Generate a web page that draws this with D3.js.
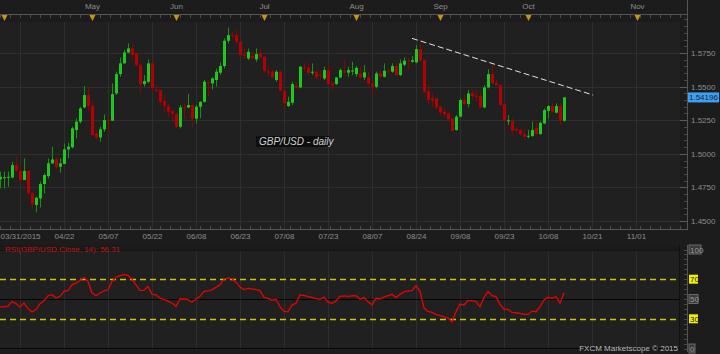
<!DOCTYPE html>
<html>
<head>
<meta charset="utf-8">
<script src="https://d3js.org/d3.v7.min.js"></script>
<style>
  body { margin: 0; background: #1c1c1c; }
  svg { display: block; font-family: "Liberation Sans", Arial, sans-serif; }
</style>
</head>
<body>
<svg id="chart"></svg>
<script>
// daily GBP/USD candles, 03/31/2015 .. 10/14/2015 (trading-day index)
var opens = [1.4810,1.4822,1.4826,1.4824,1.4916,1.4872,1.4805,1.4872,1.4710,1.4619,1.4668,1.4775,1.4834,1.4929,1.4958,1.4904,1.4924,1.5033,1.5048,1.5177,
  1.5239,1.5345,1.5437,1.5355,1.5152,1.5122,1.5182,1.5253,1.5246,1.5449,1.5593,1.5673,1.5754,1.5784,1.5747,1.5660,1.5519,1.5536,1.5673,1.5474,
  1.5474,1.5392,1.5355,1.5318,1.5296,1.5201,1.5347,1.5345,1.5363,1.5261,1.5350,1.5387,1.5531,1.5524,1.5549,1.5603,1.5653,1.5841,1.5885,1.5883,
  1.5834,1.5737,1.5710,1.5727,1.5702,1.5747,1.5722,1.5613,1.5611,1.5549,1.5611,1.5469,1.5355,1.5380,1.5504,1.5494,1.5643,1.5640,1.5603,1.5611,
  1.5588,1.5561,1.5623,1.5524,1.5519,1.5568,1.5613,1.5603,1.5615,1.5593,1.5598,1.5568,1.5568,1.5524,1.5499,1.5598,1.5573,1.5620,1.5611,1.5653,
  1.5586,1.5663,1.5695,1.5685,1.5680,1.5779,1.5697,1.5467,1.5412,1.5412,1.5350,1.5313,1.5301,1.5263,1.5177,1.5276,1.5400,1.5370,1.5449,1.5432,
  1.5429,1.5345,1.5494,1.5593,1.5526,1.5511,1.5370,1.5244,1.5246,1.5186,1.5177,1.5147,1.5129,1.5132,1.5194,1.5147,1.5226,1.5320,1.5355,1.5306,
  1.5355,1.5246];
var highs = [1.4867,1.4867,1.4867,1.4941,1.4978,1.4916,1.4966,1.4879,1.4710,1.4681,1.4792,1.4854,1.4966,1.5053,1.4978,1.4966,1.5077,1.5082,1.5201,1.5263,
  1.5350,1.5504,1.5492,1.5398,1.5177,1.5201,1.5293,1.5276,1.5524,1.5611,1.5717,1.5772,1.5821,1.5816,1.5752,1.5673,1.5586,1.5702,1.5685,1.5511,
  1.5474,1.5437,1.5375,1.5325,1.5306,1.5363,1.5375,1.5444,1.5375,1.5363,1.5392,1.5549,1.5536,1.5568,1.5635,1.5678,1.5859,1.5940,1.5908,1.5921,
  1.5841,1.5784,1.5784,1.5759,1.5784,1.5784,1.5727,1.5648,1.5628,1.5623,1.5623,1.5474,1.5425,1.5536,1.5536,1.5653,1.5678,1.5673,1.5673,1.5623,
  1.5623,1.5648,1.5668,1.5536,1.5573,1.5635,1.5697,1.5648,1.5685,1.5653,1.5648,1.5660,1.5611,1.5549,1.5611,1.5623,1.5673,1.5635,1.5673,1.5673,
  1.5702,1.5717,1.5710,1.5727,1.5809,1.5821,1.5702,1.5511,1.5449,1.5420,1.5363,1.5338,1.5313,1.5271,1.5289,1.5412,1.5437,1.5474,1.5474,1.5474,
  1.5462,1.5511,1.5628,1.5673,1.5549,1.5524,1.5375,1.5289,1.5263,1.5201,1.5189,1.5182,1.5177,1.5239,1.5239,1.5239,1.5338,1.5363,1.5375,1.5375,
  1.5380,1.5420];
var lows = [1.4743,1.4743,1.4755,1.4817,1.4867,1.4780,1.4805,1.4693,1.4594,1.4564,1.4601,1.4705,1.4817,1.4924,1.4891,1.4859,1.4924,1.4966,1.5040,1.5115,
  1.5226,1.5338,1.5313,1.5132,1.5102,1.5090,1.5164,1.5164,1.5246,1.5437,1.5573,1.5673,1.5747,1.5717,1.5648,1.5454,1.5499,1.5524,1.5462,1.5462,
  1.5363,1.5313,1.5263,1.5251,1.5189,1.5189,1.5256,1.5338,1.5201,1.5226,1.5263,1.5380,1.5429,1.5479,1.5499,1.5586,1.5635,1.5821,1.5851,1.5816,
  1.5722,1.5702,1.5697,1.5697,1.5685,1.5710,1.5603,1.5578,1.5561,1.5536,1.5462,1.5338,1.5350,1.5363,1.5487,1.5487,1.5611,1.5586,1.5586,1.5553,
  1.5553,1.5549,1.5511,1.5474,1.5511,1.5561,1.5598,1.5573,1.5586,1.5573,1.5561,1.5549,1.5499,1.5437,1.5487,1.5561,1.5568,1.5598,1.5603,1.5578,
  1.5578,1.5653,1.5623,1.5678,1.5673,1.5685,1.5449,1.5375,1.5350,1.5325,1.5289,1.5271,1.5251,1.5164,1.5172,1.5271,1.5363,1.5345,1.5400,1.5387,
  1.5338,1.5338,1.5487,1.5519,1.5504,1.5355,1.5239,1.5214,1.5139,1.5164,1.5132,1.5115,1.5115,1.5127,1.5139,1.5139,1.5221,1.5263,1.5306,1.5301,
  1.5214,1.5239];
var closes = [1.4829,1.4826,1.4829,1.4916,1.4874,1.4805,1.4872,1.4705,1.4626,1.4673,1.4775,1.4842,1.4929,1.4958,1.4904,1.4929,1.5033,1.5053,1.5189,1.5239,
  1.5338,1.5437,1.5355,1.5139,1.5120,1.5182,1.5251,1.5249,1.5444,1.5593,1.5673,1.5754,1.5784,1.5735,1.5660,1.5519,1.5541,1.5673,1.5487,1.5469,
  1.5387,1.5355,1.5313,1.5296,1.5201,1.5345,1.5343,1.5363,1.5263,1.5350,1.5387,1.5536,1.5527,1.5561,1.5611,1.5653,1.5841,1.5883,1.5881,1.5834,
  1.5735,1.5732,1.5759,1.5712,1.5742,1.5717,1.5618,1.5608,1.5568,1.5611,1.5469,1.5375,1.5387,1.5519,1.5494,1.5648,1.5638,1.5603,1.5611,1.5568,
  1.5583,1.5623,1.5519,1.5509,1.5568,1.5623,1.5608,1.5623,1.5620,1.5640,1.5568,1.5606,1.5524,1.5499,1.5598,1.5573,1.5618,1.5615,1.5653,1.5586,
  1.5673,1.5693,1.5690,1.5697,1.5779,1.5693,1.5462,1.5400,1.5395,1.5345,1.5306,1.5296,1.5256,1.5172,1.5276,1.5400,1.5370,1.5449,1.5429,1.5427,
  1.5345,1.5494,1.5593,1.5526,1.5511,1.5363,1.5246,1.5249,1.5172,1.5172,1.5147,1.5127,1.5134,1.5177,1.5147,1.5231,1.5325,1.5355,1.5313,1.5355,
  1.5246,1.5420];
// RSI(14) of close
var rsiValues = [42.0,42.0,42.7,47.3,45.3,42.0,46.0,40.0,37.0,39.3,45.3,48.3,53.3,54.3,51.0,52.7,57.7,58.7,64.3,66.0,
  68.7,71.7,67.7,56.0,53.3,56.0,58.3,59.3,67.7,72.0,73.7,74.7,74.0,70.0,64.3,58.7,58.7,62.7,55.0,54.3,
  51.0,49.3,47.7,46.0,42.7,50.0,50.0,49.3,46.7,50.0,52.7,57.7,58.3,59.3,61.7,64.3,70.0,71.0,70.5,67.0,
  62.0,59.5,60.8,60.2,59.5,58.5,51.7,50.7,48.6,49.7,42.2,37.5,37.1,43.9,45.6,54.1,53.7,52.4,51.7,50.3,
  49.7,52.0,46.9,45.6,48.0,52.7,53.1,52.7,53.1,53.4,49.7,51.4,47.3,44.2,50.7,50.0,52.0,53.4,54.7,51.4,
  54.7,57.1,58.1,58.5,63.6,57.8,40.8,37.4,36.4,34.4,33.1,32.0,31.0,27.0,37.1,44.9,43.9,48.3,48.3,47.3,
  42.2,51.7,57.5,53.4,52.4,44.6,39.8,39.5,36.4,36.1,35.4,34.4,34.4,37.8,37.1,42.2,49.0,51.7,50.7,52.4,
  45.6,56.31];

var dateLabels = ["03/31/2015","04/22","05/07","05/22","06/08","06/23","07/08","07/23","08/07","08/24","09/08","09/23","10/08","10/21","11/01"];
var dateIdx = [0,16,27,38,49,60,71,82,93,104,115,126,137,148,159];
var gridIdx = [5,16,27,38,49,60,71,82,93,104,115,126,137,148,159];
var monthLabels = ["", "May","Jun","Jul","Aug","Sep","Oct","Nov"];
var monthIdx = [1,23,44,66,89,110,132,159.25];
var priceTicks = [1.45,1.475,1.5,1.525,1.55,1.575];
var rsiTicks = [0,30,50,70,100];
var lastPrice = 1.54196;
var trendIdx = [103,148.3];
var trendPrice = [1.5859,1.5437];

var W = 720, H = 354;
var plotR = 680, axisX = 687;
var svg = d3.select("#chart").attr("width", W).attr("height", H);

var x = d3.scaleLinear().domain([0, 170]).range([0, 680]);
var y = d3.scaleLinear().domain([1.45, 1.6]).range([221, 19.4]);
var yR = d3.scaleLinear().domain([0, 100]).range([348.5, 249.5]);

svg.append("rect").attr("width", W).attr("height", H).attr("fill", "#1c1c1c");

// panels
svg.append("rect").attr("x", 0).attr("y", 22).attr("width", plotR).attr("height", 207).attr("fill", "#202020");
svg.append("rect").attr("x", 0).attr("y", 245).attr("width", plotR).attr("height", 105).attr("fill", "#202020");
svg.append("rect").attr("x", 0).attr("y", 245).attr("width", plotR).attr("height", 6).attr("fill", "#1a1a1a");

var defs = svg.append("defs");
defs.append("clipPath").attr("id", "clipMain").append("rect").attr("x", 0).attr("y", 22).attr("width", plotR).attr("height", 207);
defs.append("clipPath").attr("id", "clipRsi").append("rect").attr("x", 0).attr("y", 251).attr("width", plotR).attr("height", 99);

// grid
var grid = svg.append("g").attr("stroke", "#2e2e2e").attr("stroke-width", 1);
grid.selectAll(".v1").data(gridIdx).join("line")
  .attr("x1", d => Math.round(x(d)) + 0.5).attr("x2", d => Math.round(x(d)) + 0.5)
  .attr("y1", 22).attr("y2", 229);
grid.selectAll(".v2").data(gridIdx).join("line")
  .attr("x1", d => Math.round(x(d)) + 0.5).attr("x2", d => Math.round(x(d)) + 0.5)
  .attr("y1", 251).attr("y2", 350);
grid.selectAll(".h").data(priceTicks).join("line")
  .attr("x1", 0).attr("x2", plotR)
  .attr("y1", d => Math.round(y(d)) + 0.5).attr("y2", d => Math.round(y(d)) + 0.5);

// top month axis
var topAxis = svg.append("g");
topAxis.append("line").attr("x1", 0).attr("x2", axisX).attr("y1", 14.5).attr("y2", 14.5).attr("stroke", "#555");
topAxis.selectAll(".mt").data(d3.range(0, 172, 2.5)).join("line")
  .attr("x1", d => x(d) + 0.5).attr("x2", d => x(d) + 0.5)
  .attr("y1", 15).attr("y2", 18).attr("stroke", "#4a4a4a");
topAxis.selectAll("path").data(monthIdx).join("path")
  .attr("d", d => { var cx = x(d) + 0.5; return "M" + (cx - 3) + ",15L" + (cx + 3) + ",15L" + cx + ",21Z"; })
  .attr("fill", "#c8960a");
topAxis.selectAll("text").data(monthIdx).join("text")
  .attr("x", d => x(d) + 0.5).attr("y", 9)
  .attr("text-anchor", "middle").attr("fill", "#8c8c8c").attr("font-size", "8px")
  .text((d, i) => monthLabels[i]);

// candles
var idx = d3.range(closes.length);
var cg = svg.append("g").attr("clip-path", "url(#clipMain)");
cg.selectAll(".wick").data(idx).join("line")
  .attr("x1", i => x(i) + 0.5).attr("x2", i => x(i) + 0.5)
  .attr("y1", i => y(highs[i])).attr("y2", i => y(lows[i]))
  .attr("stroke", i => closes[i] >= opens[i] ? "#149414" : "#920000");
cg.selectAll(".body").data(idx).join("rect")
  .attr("x", i => x(i) - 1).attr("width", 3)
  .attr("y", i => y(Math.max(opens[i], closes[i])))
  .attr("height", i => Math.max(1, y(Math.min(opens[i], closes[i])) - y(Math.max(opens[i], closes[i]))))
  .attr("fill", i => closes[i] >= opens[i] ? "#1ec81e" : "#b40000");

// trend line
cg.append("line")
  .attr("x1", x(trendIdx[0])).attr("y1", y(trendPrice[0]))
  .attr("x2", x(trendIdx[1])).attr("y2", y(trendPrice[1]))
  .attr("stroke", "#d8e8d8").attr("stroke-width", 1).attr("stroke-dasharray", "6,3");

// chart title label
var tl = svg.append("g");
tl.append("rect").attr("x", 256).attr("y", 136).attr("width", 74).attr("height", 11).attr("fill", "#0e0e0e");
tl.append("text").attr("x", 259).attr("y", 145).attr("fill", "#d0d0d0")
  .attr("font-size", "10px").attr("font-style", "italic").text("GBP/USD - daily");

// price axis
var pa = svg.append("g");
pa.append("line").attr("x1", axisX + 0.5).attr("x2", axisX + 0.5).attr("y1", 0).attr("y2", 230).attr("stroke", "#555");
pa.selectAll(".minor").data(d3.range(1.45, 1.6, 0.005)).join("line")
  .attr("x1", axisX - 3).attr("x2", axisX)
  .attr("y1", d => Math.round(y(d)) + 0.5).attr("y2", d => Math.round(y(d)) + 0.5).attr("stroke", "#4a4a4a");
var yAxis = d3.axisRight(y).tickValues(priceTicks).tickFormat(d3.format(".4f")).tickSize(0).tickPadding(4);
var yg = pa.append("g").attr("transform", "translate(" + axisX + ",0)").call(yAxis);
yg.select(".domain").remove();
yg.selectAll("text").attr("fill", "#8c8c8c").attr("font-size", "8px");
pa.selectAll(".major").data(priceTicks).join("line")
  .attr("x1", axisX - 7).attr("x2", axisX)
  .attr("y1", d => Math.round(y(d)) + 0.5).attr("y2", d => Math.round(y(d)) + 0.5).attr("stroke", "#5a5a5a");
// last price tag
pa.append("rect").attr("x", axisX + 1).attr("y", y(lastPrice) - 5).attr("width", 31).attr("height", 10).attr("fill", "#3ea0f0");
pa.append("text").attr("x", axisX + 2).attr("y", y(lastPrice) + 3).attr("fill", "#10243a")
  .attr("font-size", "8px").text(lastPrice.toFixed(5));

// date axis
var da = svg.append("g");
da.append("line").attr("x1", 0).attr("x2", axisX).attr("y1", 229.5).attr("y2", 229.5).attr("stroke", "#555");
da.selectAll(".dt").data(d3.range(0, 172, 2.5)).join("line")
  .attr("x1", d => x(d) + 0.5).attr("x2", d => x(d) + 0.5)
  .attr("y1", 226).attr("y2", 229).attr("stroke", "#4a4a4a");
var xAxis = d3.axisBottom(x).tickValues(dateIdx).tickFormat((d, i) => dateLabels[i]).tickSize(0).tickPadding(3);
var xg = da.append("g").attr("transform", "translate(0,230)").call(xAxis);
xg.select(".domain").remove();
xg.selectAll("text").attr("fill", "#8c8c8c").attr("font-size", "8px");
xg.selectAll("text").filter((d, i) => i === 0).attr("text-anchor", "start");

// RSI panel
var rg = svg.append("g").attr("clip-path", "url(#clipRsi)");
rg.append("line").attr("x1", 0).attr("x2", plotR).attr("y1", Math.round(yR(50)) + 0.5).attr("y2", Math.round(yR(50)) + 0.5).attr("stroke", "#050505");
rg.append("line").attr("x1", 0).attr("x2", plotR).attr("y1", Math.round(yR(0)) - 0.5).attr("y2", Math.round(yR(0)) - 0.5).attr("stroke", "#050505");
rg.selectAll(".lvl").data([70, 30]).join("line")
  .attr("x1", 0).attr("x2", plotR)
  .attr("y1", d => Math.round(yR(d)) + 0.5).attr("y2", d => Math.round(yR(d)) + 0.5)
  .attr("stroke", "#c8c800").attr("stroke-width", 1.4).attr("stroke-dasharray", "6,4");
var rsiLine = d3.line().x((d, i) => x(i)).y(d => yR(d));
rg.append("path").datum(rsiValues).attr("d", rsiLine)
  .attr("fill", "none").attr("stroke", "#ee0000").attr("stroke-width", 1.3);
svg.append("line").attr("x1", 0).attr("x2", plotR).attr("y1", 250.5).attr("y2", 250.5).attr("stroke", "#141414");

svg.append("text").attr("x", 5).attr("y", 252).attr("fill", "#c01414").attr("font-size", "8px")
  .text("RSI(GBP/USD.Close, 14): " + rsiValues[rsiValues.length - 1].toFixed(2));

// RSI axis
var ra = svg.append("g");
ra.append("line").attr("x1", plotR - 0.5).attr("x2", plotR - 0.5).attr("y1", 245).attr("y2", 350).attr("stroke", "#111");
ra.append("line").attr("x1", axisX + 0.5).attr("x2", axisX + 0.5).attr("y1", 245).attr("y2", 352).attr("stroke", "#555");
ra.selectAll(".rm").data(d3.range(0, 101, 5)).join("line")
  .attr("x1", axisX - 3).attr("x2", axisX)
  .attr("y1", d => Math.round(yR(d)) + 0.5).attr("y2", d => Math.round(yR(d)) + 0.5).attr("stroke", "#4a4a4a");
var rl = ra.selectAll(".rl").data(rsiTicks).join("g")
  .attr("transform", d => "translate(" + (axisX + 2) + "," + yR(d) + ")");
rl.append("rect").attr("x", 0).attr("y", -4.5).attr("width", d => d === 100 ? 12 : (d === 0 ? 6 : 9)).attr("height", 9)
  .attr("fill", d => (d === 70 || d === 30) ? "#f0f000" : "#3a3a3a")
  .attr("stroke", d => (d === 70 || d === 30) ? "none" : "#6a6a6a");
rl.append("text").attr("x", 1).attr("y", 3).attr("font-size", "8px")
  .attr("fill", d => (d === 70 || d === 30) ? "#222" : "#999").text(d => d);

svg.append("text").attr("x", 678).attr("y", 351).attr("text-anchor", "end")
  .attr("fill", "#bdbdbd").attr("font-size", "8px").text("FXCM Marketscope © 2015");
</script>
</body>
</html>
